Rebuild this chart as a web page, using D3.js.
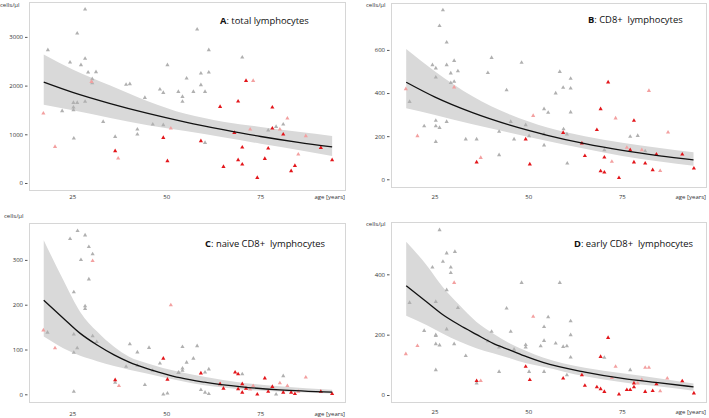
<!DOCTYPE html>
<html><head><meta charset="utf-8">
<script src="https://cdn.jsdelivr.net/npm/d3@7"></script>
<style>
html,body{margin:0;padding:0;background:#fff;}
svg{display:block;font-family:"Open Sans",sans-serif;}
</style></head>
<body><svg id="c" width="709" height="418"></svg>
<script>
// ---------- data ----------
const xTicks = [25, 50, 75];
const yTicksA = [0, 1000, 2000, 3000];
const yTicksB = [0, 200, 400, 600];
const yTicksC = [0, 100, 200, 300];
const yTicksD = [0, 200, 400];

// Panel A: total lymphocytes
const greyA = [[28.3,3565],[26.2,3073],[18.4,2731],[24.3,2478],[28.3,2553],[27.2,2423],[29.1,2273],[31.2,2279],[30.2,2135],[30.2,2050],[39.2,2019],[40.2,2033],[44.2,1752],[48.2,1924],[49.1,1854],[50.2,2423],[25.2,1649],[26.2,1649],[25.2,1499],[25.2,1553],[28.3,1670],[22.2,1478],[33.1,1259],[46.3,1205],[42.2,1103],[42.2,1000],[49.1,1191],[25.3,918],[36.3,951],[53.1,1875],[58.1,3156],[61.2,2731],[61.2,2273],[59.1,2252],[55.3,2150],[70.1,2581],[59.1,2012],[54.2,1772],[54.2,1670],[57.1,1875],[60.2,1875],[60.2,828],[77.0,1082],[79.1,1156],[81.0,1205]];
const redA = [[36.3,657],[49.1,930],[50.2,452],[71.1,2101],[69.0,1678],[64.2,1567],[78.1,1554],[78.1,1123],[68.0,1033],[81.0,1000],[59.1,862],[70.1,733],[77.0,712],[91.0,725],[69.0,472],[70.1,384],[65.1,335],[76.1,499],[84.1,355],[83.1,246],[74.1,109],[94.0,472]];
const pinkA = [[17.2,1431],[20.3,745],[30.0,2080],[37.1,507],[51.1,1123],[73.0,2101],[82.1,1328],[80.1,1103],[72.2,1103],[87.0,965],[85.0,589]];
const fitAgeA = [17.3,25,35,45,55,65,75,85,94];
const fitA   = [2070,1860,1630,1428,1250,1095,955,834,740];
const upperA = [2640,2330,2000,1680,1420,1260,1150,1050,965];
const lowerA = [1608,1493,1335,1185,1068,938,807,678,554];

// Panel B: CD8+ lymphocytes
const greyB = [[27.1,785],[26.2,712],[28.1,635],[24.3,530],[25.2,515],[28.1,530],[30.1,550],[31.1,502],[29.2,492],[25.2,473],[29.2,447],[30.1,453],[18.2,360],[25.2,272],[25.2,247],[26.2,239],[22.1,247],[28.1,267],[25.2,174],[33.2,186],[36.1,186],[40.1,564],[39.1,494],[44.1,414],[45.2,267],[42.1,221],[42.1,113],[46.1,186],[48.1,541],[49.2,252],[50.1,201],[58.3,499],[61.2,467],[59.2,425],[61.2,422],[57.2,399],[54.1,326],[55.2,309],[61.2,311],[59.3,233],[60.2,209],[54.1,209],[54.1,158],[60.3,74],[70.2,136],[77.1,198],[79.1,202],[81.1,131]];
const redB = [[36.1,79],[49.2,186],[50.3,70],[71.2,450],[69.2,326],[78.1,272],[68.2,229],[59.2,216],[64.2,167],[77.1,136],[84.1,116],[91.0,116],[65.0,109],[70.2,102],[78.1,79],[81.1,74],[83.1,43],[69.2,38],[70.2,32],[74.1,7],[94.1,51]];
const pinkB = [[17.2,419],[20.3,201],[30.1,427],[37.2,100],[51.2,295],[82.1,411],[73.2,283],[87.2,218],[76.2,147],[80.2,136],[72.2,82],[85.1,39]];
const fitAgeB = [17.3,25,35,45,55,65,75,85,94];
const fitB   = [450,381,309,251,204,165,134,109,90];
const upperB = [604,500,385,300,240,200,170,145,125];
const lowerB = [329,298,255,216,178,142,108,82,63];

// Panel C: naive CD8+ lymphocytes
const greyC = [[26.3,365],[24.3,347],[28.3,355],[29.3,329],[30.3,313],[27.2,300],[29.3,257],[25.3,228],[28.3,197],[28.3,191],[18.3,138],[25.3,134],[30.3,130],[31.4,117],[26.2,103],[25.3,93],[40.2,112],[42.2,94],[45.3,104],[39.2,62],[42.2,64],[48.2,69],[46.3,53],[44.2,21],[36.3,26],[25.3,6],[49.1,0],[50.2,2],[53.1,48],[54.2,106],[58.1,108],[55.3,71],[57.1,80],[54.2,58],[53.2,49],[54.2,53],[60.2,49],[61.2,56],[60.2,4],[61.2,1],[59.1,10],[70.1,45],[81.0,41],[79.1,0]];
const redC = [[36.3,32],[49.1,80],[50.2,33],[59.1,47],[68.2,49],[69.0,45],[64.2,23],[65.1,13],[70.1,23],[69.0,12],[70.1,4],[71.1,13],[74.1,0],[76.1,36],[78.1,17],[77.0,6],[81.0,4],[83.1,4],[84.1,1],[91.0,6],[94.0,1]];
const pinkC = [[17.2,143],[20.3,103],[30.3,298],[37.3,19],[51.1,199],[73.0,19],[80.1,25],[82.1,19],[87.0,38],[72.2,11],[85.0,6]];
const fitAgeC = [17.3,22.5,27,31.5,36,40,45,49,53.5,60,70,80,94];
const fitC   = [210,170,136,110,88,72,57,47,37,27,16.5,10,5];
const upperC = [344,255,184,140,106,84,69,59,50,39,26,18,10];
const lowerC = [129,103,86,74,63,55,46,38,30,20,11,6,2];

// Panel D: early CD8+ lymphocytes
const greyD = [[26.2,547],[28.1,470],[30.3,475],[27.1,442],[24.3,423],[29.2,423],[29.2,405],[28.1,348],[25.2,309],[18.2,306],[31.1,289],[22.1,213],[25.2,199],[25.2,196],[28.1,218],[25.2,169],[26.2,165],[30.1,169],[33.2,130],[25.2,83],[36.1,39],[40.1,210],[39.1,179],[42.1,158],[44.1,287],[45.2,210],[46.1,151],[42.1,77],[48.1,372],[49.2,166],[49.2,158],[50.1,77],[58.3,372],[61.2,245],[54.1,226],[55.2,258],[61.2,199],[54.1,180],[57.2,171],[59.2,160],[60.2,162],[53.2,162],[61.2,125],[54.1,77],[60.2,66],[70.2,124],[77.1,83]];
const redD = [[36.1,47],[49.2,94],[50.3,50],[71.2,190],[69.2,127],[59.2,55],[64.2,66],[65.0,31],[68.2,26],[69.2,20],[70.2,11],[74.1,2],[76.2,17],[77.1,17],[78.1,26],[78.1,39],[81.1,11],[83.1,14],[84.1,36],[91.0,46],[94.1,6]];
const pinkD = [[17.2,136],[20.3,163],[30.1,372],[37.2,47],[51.2,260],[72.2,57],[73.2,94],[81.1,91],[82.1,91],[80.2,50],[87.0,55],[85.1,13],[79.1,39]];
const fitAgeD = [17.3,22.7,27,31.5,36,40.5,45,49.4,53.8,65,75,85,94];
const fitD   = [362,309,267,232,201,171,149,127,108,76,55,40,27];
const upperD = [508,431,359,298,243,204,171,146,124,90,72,55,38];
const lowerD = [263,232,204,177,155,138,122,105,94,62,42,28,14];

// ---------- layout ----------
const panels = [
  {letter:"A", title:": total lymphocytes", frame:[29,2,346,191], xDom:[13.38,97.69], yDom:[-164.3,3716.6], yTicks:yTicksA,
   grey:greyA, red:redA, pink:pinkA, fitAge:fitAgeA, fit:fitA, up:upperA, lo:lowerA,
   titleXY:[220,24], unitXY:[0,7], xLabY:199},
  {letter:"B", title:": CD8+\u00a0 lymphocytes", frame:[391,3,707,188], xDom:[13.24,97.6], yDom:[-40.4,817.7], yTicks:yTicksB,
   grey:greyB, red:redB, pink:pinkB, fitAge:fitAgeB, fit:fitB, up:upperB, lo:lowerB,
   titleXY:[588,23], unitXY:[366,6.5], xLabY:199},
  {letter:"C", title:": naive CD8+\u00a0 lymphocytes", frame:[29,223,346,403], xDom:[13.38,97.69], yDom:[-19.4,382.4], yTicks:yTicksC,
   grey:greyC, red:redC, pink:pinkC, fitAge:fitAgeC, fit:fitC, up:upperC, lo:lowerC,
   titleXY:[205,247], unitXY:[4,218], xLabY:416},
  {letter:"D", title:": early CD8+\u00a0 lymphocytes", frame:[391,222,707,403], xDom:[13.24,97.6], yDom:[-26.5,573.4], yTicks:yTicksD,
   grey:greyD, red:redD, pink:pinkD, fitAge:fitAgeD, fit:fitD, up:upperD, lo:lowerD,
   titleXY:[574,247], unitXY:[366,226], xLabY:414}
];

const svg = d3.select("#c");
const tri = d3.symbol().type(d3.symbolTriangle).size(7.5);

panels.forEach(p => {
  const [x0,y0,x1,y1] = p.frame;
  const x = d3.scaleLinear().domain(p.xDom).range([x0,x1]);
  const y = d3.scaleLinear().domain(p.yDom).range([y1,y0]);
  const g = svg.append("g");

  g.append("rect").attr("x",x0+0.5).attr("y",y0+0.5).attr("width",x1-x0-1).attr("height",y1-y0-1)
    .attr("fill","none").attr("stroke","#d6d6d6").attr("stroke-width",1);

  const band = p.fitAge.map((a,i)=>({a, f:p.fit[i], u:p.up[i], l:p.lo[i]}));
  g.append("path").datum(band)
    .attr("d", d3.area().x(d=>x(d.a)).y0(d=>y(d.l)).y1(d=>y(d.u)).curve(d3.curveMonotoneX))
    .attr("fill","#d9d9d9");

  const pts = (arr, col) => g.append("g").selectAll("path").data(arr).join("path")
    .attr("d", tri).attr("transform", d=>`translate(${x(d[0])},${y(d[1])})`).attr("fill", col);
  pts(p.grey, "#b0b0b0");
  pts(p.pink, "#f3a0a0");
  pts(p.red, "#e3161b");

  g.append("path").datum(band)
    .attr("d", d3.line().x(d=>x(d.a)).y(d=>y(d.f)).curve(d3.curveMonotoneX))
    .attr("fill","none").attr("stroke","#111").attr("stroke-width",1.3);

  // y axis
  const ya = g.append("g").attr("transform",`translate(${x0-1.5},0)`)
    .call(d3.axisLeft(y).tickValues(p.yTicks).tickSize(2.5).tickPadding(2).tickFormat(d3.format("d")));
  ya.select(".domain").remove();
  ya.selectAll("line").attr("stroke","#555");
  ya.selectAll("text").attr("font-size",6).attr("fill","#333").attr("font-family","Open Sans, sans-serif");

  // x axis labels
  const xa = g.append("g").attr("transform",`translate(0,${p.xLabY})`);
  xa.selectAll("text").data(xTicks).join("text")
    .attr("x", d=>x(d)).attr("y",0).attr("text-anchor","middle")
    .attr("font-size",6).attr("fill","#333").text(d=>d);
  xa.append("text").attr("x",x1-1).attr("y",0).attr("text-anchor","end")
    .attr("font-size",6).attr("fill","#333").text("age [years]");

  g.append("text").attr("x",p.unitXY[0]).attr("y",p.unitXY[1]).attr("font-size",6)
    .attr("fill","#333").text("cells/µl");

  const t = g.append("text").attr("x",p.titleXY[0]).attr("y",p.titleXY[1])
    .attr("font-size",9.4).attr("fill","#111");
  t.append("tspan").attr("font-weight","bold").text(p.letter);
  t.append("tspan").text(p.title);
});
</script></body></html>
